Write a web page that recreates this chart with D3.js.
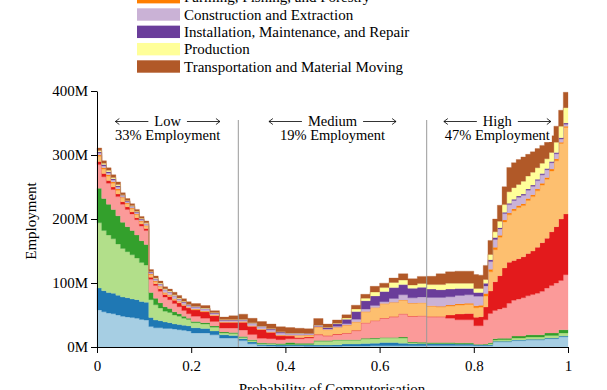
<!DOCTYPE html>
<html><head><meta charset="utf-8">
<script src="https://cdn.jsdelivr.net/npm/d3@7"></script>
<style>
html,body{margin:0;padding:0;background:#fff;overflow:hidden}
svg text{font-family:"Liberation Serif","Times New Roman",serif;fill:#000}
</style></head><body>
<svg id="c" width="607" height="390"></svg>
<script>
// probability of computerisation (left edge of each step)
const prob = [0,0.01,0.02,0.03,0.04,0.05,0.06,0.07,0.08,0.09,0.10,
  0.11,0.12,0.13,0.14,0.15,0.16,0.17,0.18,0.19,
  0.20,0.22,0.24,0.26,0.28,0.30,0.32,0.34,0.36,0.38,
  0.40,0.42,0.44,0.46,0.48,0.50,0.52,0.54,0.56,0.58,0.60,0.62,0.64,0.66,0.68,
  0.70,0.72,0.74,0.76,0.78,0.80,0.81,0.82,0.83,
  0.84,0.85,0.86,0.87,0.88,0.89,0.90,0.91,0.92,0.93,0.94,0.95,0.96,0.97,0.98,0.99,1.00];

// employment (millions) per occupation group
const management = [58,55,53,52,50,48,47,46,45,43,42, 32,30,30,29,29,28,27,26,25, 22,22,19,14,14, 10,5,2,1.5,1, 1.5,1.5,1,1,1, 1,1.5,1.5,1.5,2,2,2,2,2,2, 2.5,2.5,2.5,2.5,2.5, 2,2,2,2, 8,8,8,8,10,10,10,11,11,11,11,13,13,13,16,16,16];
const computer = [34,33,32,32,31,30,30,29,29,28,28, 14,12,11,10,9,8,8,8,8, 8,7,6,5,4, 3,3,2,2,2, 1.5,1.5,2,2,2, 2.5,3,3,4,4,5,5,4,3,3, 2.5,2.5,2.5,2,2, 1.5,1.5,1.5,1.5, 1,1,1,1,1,1,1,1,1,1,1,1,1,1,1,1,1];
const education = [102,94,90,85,80,76,72,69,65,61,58, 28,24,20,17,16,14,13,11,10, 8,7,6,3,3, 2,2,1,1,1, 1,1,1,6,6, 7,6,6,7,7,7,7,8,1.5,1, 0.5,0.5,0.5,0.5,0.5, 0.3,0.3,0.5,1.5, 2,2.5,2.5,2.5,3,3,3,3.5,3.5,3.5,3.5,4,4,4,5,5,5];
const healthcare = [54,50,48,46,44,41,39,38,36,34,32, 11,10,8,7,6,5,4,3,2, 2,2,2,1.5,1.5, 1.5,1.5,1.5,1.5,1.5, 3,2,2,1,1, 1,1,1,1,1,1,1,1.5,1.5,1.5, 1.5,1.5,1.5,1.5,1.5, 0.5,0.5,0.5,1.5, 2,2,2,2,3,3,3,3.5,3.5,3.5,3.5,4,4,4,5,5,5];
const service = [37,34,33,31,30,28,27,26,24,23,22, 21,20,18,15,14,13,11,9,7, 8,7,7,6,7, 10,8,7,7,6, 6,7,8,9,7, 8,10,14,24,27,30,32,36,40,41, 40,40,38,36,36, 29,29,38,46, 44,46,48,55,56,58,60,61,63,65,68,70,74,78,77,86,86];
const sales = [5,5,4,4,4,4,4,3,3,3,3, 3,3,4,4,5,5,6,8,9, 10,10,9,9,9, 12,13,14,10,6, 4,2,1.5,1,1, 1,0.5,0.5,0.5,0.5,0.5,0.5,0.5,0.3,0.3, 0.5,0.5,5,9,10, 13,14,20,35, 45,52,62,64,62,63,64,66,68,72,76,78,84,88,96,95,95];
const office = [8,7,7,6,6,6,5,5,5,4,4, 4,3,3,2,2,2,2,1,1, 1,1,1,0.5,0.5, 1,0.5,0.5,0.5,1, 1,3,3,11,9, 10,12,13,17,20,22,22,21,20,20, 16,15,14,14,14, 15,15,17,30, 50,60,72,74,78,80,80,83,85,88,90,92,95,103,118,135,135];
const farming = [2,2,2,2,2,1,1,1,1,1,1, 1,1,1,1,0.5,0.5,0.5,0.5,0.3, 0.3,0.3,0.3,0.3,0.3, 0.3,0.3,0.3,0.3,0.3, 0.3,0.3,0.3,0.5,0.3, 0.3,0.3,0.3,0.3,0.3,0.3,0.3,0.5,0.5,0.5, 1,1,1.5,2,2, 3,3,4,4, 4,3,3,3,3,3,3,3,3,3,3,3,3,3,2,2,2];
const construction = [3,3,3,3,3,2,2,2,2,2,2, 2,3,3,4,4,4,3,3,3, 3,3,2,2,2, 2,3,3,3,3, 2,2,1.5,1,1, 1.5,2,4,4,3,3,6,8,8,9, 13,14,13,13,13, 15,14,12,12, 12,10,10,13,13,13,13,13,13,13,13,12,10,8,5,3,3];
const installation = [2,2,2,2,2,1,1,1,1,1,1, 1,1,1,1,1,1,1,1,1, 1,1,1,1,1, 1,1,1,1.5,1.5, 1,1,1,1.5,2, 4,7,12,13,15,16,17,16,15,15, 13,12,12,11,10, 6,6,4,3, 3,2,2,2,2,2,2,2,2,2,2,2,2,2,2,2,2];
const production = [2,2,2,2,2,1,1,1,1,1,1, 1,1,1,1,1,1,1,1,0.5, 0.5,0.5,0.5,0.5,0.5, 0.5,0.5,0.5,0.5,0.5, 0.5,0.5,0.3,0.5,0.5, 1,2,4,4,6,6,8,7,5,6, 7,8,9,8,8, 6,6,6,8, 9,10,12,18,18,18,20,20,20,18,16,15,14,16,18,24,24];
const transportation = [4,4,4,4,4,3,3,3,3,3,3, 3,3,3,3,3,4,4,4,4, 4,4,3,4,6, 8,7,7,7,8, 8.5,7.5,7,10,5, 5,5,6,6,9,7,7,10,10,11, 13,17,18,19,19, 22,21,22,22, 20,25,28,38,39,39,38,34,32,30,28,26,26,25,25,24,24];

const seriesNames = ["Management, Business, and Financial","Computer, Engineering, and Science",
  "Education, Legal, Community Service, Arts, and Media","Healthcare Practitioners and Technical",
  "Service","Sales and Related","Office and Administrative Support","Farming, Fishing, and Forestry",
  "Construction and Extraction","Installation, Maintenance, and Repair","Production",
  "Transportation and Material Moving"];
const seriesValues = [management,computer,education,healthcare,service,sales,office,farming,
  construction,installation,production,transportation];
const colors = ["#a6cee3","#1f78b4","#b2df8a","#33a02c","#fb9a99","#e31a1c","#fdbf6f","#ff7f00",
  "#cab2d6","#6a3d9a","#ffff99","#b15928"];
const yTicks = [0,100,200,300,400];
const xTicks = [0,0.2,0.4,0.6,0.8,1];
const regions = [{name:"Low",share:"33% Employment",from:0,to:0.3},
  {name:"Medium",share:"19% Employment",from:0.3,to:0.7},
  {name:"High",share:"47% Employment",from:0.7,to:1}];

seriesValues.forEach((s,i)=>{ if(s.length!==prob.length) throw new Error("length mismatch "+seriesNames[i]+" "+s.length); });

const rows = prob.map((p,i)=>{ const r={p}; seriesNames.forEach((n,k)=>r[n]=seriesValues[k][i]); return r; });

const svg = d3.select("#c");
const x = d3.scaleLinear([0,1],[97,568]);
const y = d3.scaleLinear([0,400],[347,91]);

const stack = d3.stack().keys(seriesNames)(rows);
const area = d3.area().curve(d3.curveStepAfter)
  .x(d=>x(d.data.p)).y0(d=>y(d[0])).y1(d=>y(d[1]));
svg.append("g").selectAll("path").data(stack).join("path")
  .attr("d",area).attr("fill",(d,i)=>colors[i]).attr("stroke",(d,i)=>colors[i]).attr("stroke-width",0.3);

// region dividers
svg.append("g").selectAll("line").data([0.3,0.7]).join("line")
  .attr("x1",d=>x(d)).attr("x2",d=>x(d)).attr("y1",120).attr("y2",347)
  .attr("stroke","#999").attr("stroke-width",1);

// axes
const gy = svg.append("g").attr("transform","translate(97,0)")
  .call(d3.axisLeft(y).tickValues(yTicks).tickFormat(d=>d+"M").tickSize(6).tickSizeOuter(0).tickPadding(3));
const gx = svg.append("g").attr("transform","translate(0,347)")
  .call(d3.axisBottom(x).tickValues(xTicks).tickFormat(d=>d===0?"0":d===1?"1":d3.format(".1f")(d)).tickSize(6).tickSizeOuter(0).tickPadding(7));
[gx,gy].forEach(g=>{
  g.attr("font-family",null).attr("font-size",null);
  g.selectAll("text").attr("font-size",15).style("font-family","'Liberation Serif',serif");
  g.selectAll("path,line").attr("stroke","#000").attr("stroke-width",1);
});

svg.append("text").attr("x",332).attr("y",394).attr("text-anchor","middle").attr("font-size",15)
  .text("Probability of Computerisation");
svg.append("text").attr("transform","translate(36,221) rotate(-90)").attr("text-anchor","middle")
  .attr("font-size",15).text("Employment");

// region labels
regions.forEach(r=>{
  const cx = x((r.from+r.to)/2);
  const g = svg.append("g");
  const bg = g.append("rect").attr("fill","#fff");
  const t1 = g.append("text").attr("x",cx).attr("y",125.5).attr("text-anchor","middle").attr("font-size",14.5).text(r.name);
  const t2 = g.append("text").attr("x",cx).attr("y",140).attr("text-anchor","middle").attr("font-size",14.5).text(r.share);
  const w = t1.node().getComputedTextLength();
  const ay = 121.5, gap = 6, len = 33;
  const xl = cx - w/2 - gap - len, xr = cx + w/2 + gap + len;
  g.append("path").attr("fill","none").attr("stroke","#000").attr("stroke-width",0.8)
    .attr("d",`M${xl+4},${ay-3}L${xl},${ay}L${xl+4},${ay+3}M${xl},${ay}H${xl+len}`+
              `M${xr-4},${ay-3}L${xr},${ay}L${xr-4},${ay+3}M${xr},${ay}H${xr-len}`);
  const b2 = t2.node().getBBox();
  const left = Math.min(xl, b2.x)-1, right = Math.max(xr, b2.x+b2.width)+1;
  bg.attr("x",left).attr("y",112).attr("width",right-left).attr("height",30);
});

// legend: only the rows that fall on the page (the upper rows sit above it in the reference)
const lg = svg.append("g");
seriesNames.forEach((n,i)=>{
  const cy = 66.5 - (11-i)*17.33;
  if (cy < -8) return;
  lg.append("rect").attr("x",137).attr("y",cy-6.2).attr("width",43).attr("height",12.4).attr("fill",colors[i]);
  lg.append("text").attr("x",184).attr("y",cy+5).attr("font-size",15).text(n);
});
</script>
</body></html>
